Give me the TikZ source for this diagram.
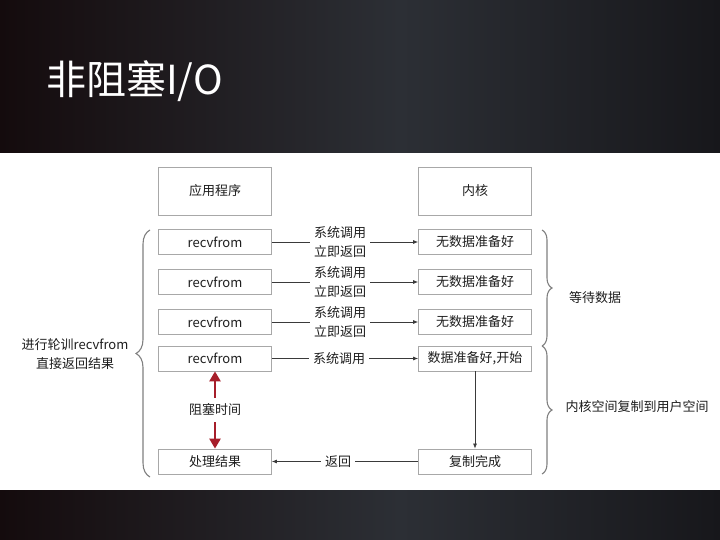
\documentclass[tikz,border=0pt]{standalone}
\usepackage{fontspec}
\setmainfont{Noto Sans CJK SC}
\usetikzlibrary{arrows.meta,decorations.pathreplacing}
\definecolor{txt}{HTML}{1E1E1E}
\definecolor{boxline}{HTML}{A8A8A8}
\definecolor{conn}{HTML}{3A3A3A}
\definecolor{bracec}{HTML}{808080}
\definecolor{blockred}{HTML}{A61E2A}
\definecolor{bgA}{HTML}{140B0D}
\definecolor{bgB}{HTML}{2C2F35}
\definecolor{bgC}{HTML}{17171B}
\begin{document}
\begin{tikzpicture}[x=1pt,y=-1pt,
  every node/.style={text=txt,font=\fontsize{13}{19}\selectfont},
  boxn/.style={draw=boxline,line width=0.8pt,minimum width=113pt,minimum height=25pt,inner sep=0pt},
  bigbox/.style={boxn,minimum height=48pt},
  lbl/.style={align=center,inner xsep=4pt,inner ysep=2pt},
  conline/.style={draw=conn,line width=0.7pt},
  conarrow/.style={conline,-{Latex[length=5pt,width=4pt]}},
  redarrow/.style={draw=blockred,line width=2.8pt,-{Triangle[length=10pt,width=11pt]}},
  bracel/.style={draw=bracec,line width=1.1pt,decorate},
]
\useasboundingbox (0,0) rectangle (720,540);
% background
\fill[white] (0,0) rectangle (720,540);
\shade[left color=bgA,right color=bgB] (0,0) rectangle (400,153);
\shade[left color=bgB,right color=bgC] (400,0) rectangle (720,153);
\shade[left color=bgA,right color=bgB] (0,490) rectangle (400,540);
\shade[left color=bgB,right color=bgC] (400,490) rectangle (720,540);
\node[anchor=west,text=white,font=\fontsize{40}{44}\selectfont,inner sep=0pt] (title) at (46,81) {非阻塞I/O};

% headers
\node[bigbox] (app) at (215,191) {应用程序};
\node[bigbox] (kern) at (475,191) {内核};

% left column
\node[boxn] (r1) at (215,242) {recvfrom};
\node[boxn] (r2) at (215,282) {recvfrom};
\node[boxn] (r3) at (215,322) {recvfrom};
\node[boxn] (r4) at (215,358.5) {recvfrom};
\node[boxn] (proc) at (215,461.5) {处理结果};

% right column
\node[boxn] (k1) at (475,242) {无数据准备好};
\node[boxn] (k2) at (475,282) {无数据准备好};
\node[boxn] (k3) at (475,322) {无数据准备好};
\node[boxn] (k4) at (475,358.5) {数据准备好,开始};
\node[boxn] (k5) at (475,461.5) {复制完成};

% connector labels
\node[lbl] (l1) at (340,242) {系统调用\\立即返回};
\node[lbl] (l2) at (340,282) {系统调用\\立即返回};
\node[lbl] (l3) at (340,322) {系统调用\\立即返回};
\node[lbl] (l4) at (339,358.5) {系统调用};
\node[lbl] (lr) at (338,461.5) {返回};

\draw[conline] (r1.east) -- (l1.west);
\draw[conarrow] (l1.east) -- (k1.west);
\draw[conline] (r2.east) -- (l2.west);
\draw[conarrow] (l2.east) -- (k2.west);
\draw[conline] (r3.east) -- (l3.west);
\draw[conarrow] (l3.east) -- (k3.west);
\draw[conline] (r4.east) -- (l4.west);
\draw[conarrow] (l4.east) -- (k4.west);
\draw[conarrow] (k4.south) -- (k5.north);
\draw[conline] (k5.west) -- (lr.east);
\draw[conarrow] (lr.west) -- (proc.east);

% blocking time
\node[inner ysep=6pt] (blk) at (215,410) {阻塞时间};
\draw[redarrow] (blk.north) -- (r4.south);
\draw[redarrow] (blk.south) -- (proc.north);

% braces
\coordinate (lb1) at (150,477);
\coordinate (lb2) at (150,230);
\draw[bracel,decoration={brace,amplitude=14pt}] (lb1) -- (lb2);
\node[align=center] (ltxt) at (75,354) {进行轮训recvfrom\\直接返回结果};

\coordinate (rb1) at (542,230);
\coordinate (rb2) at (542,346);
\coordinate (rb3) at (542,474);
\draw[bracel,decoration={brace,amplitude=10pt}] (rb1) -- (rb2);
\draw[bracel,decoration={brace,amplitude=10pt}] (rb2) -- (rb3);
\node (wait) at (595,298) {等待数据};
\node (copy) at (637,407) {内核空间复制到用户空间};
\end{tikzpicture}
\end{document}
